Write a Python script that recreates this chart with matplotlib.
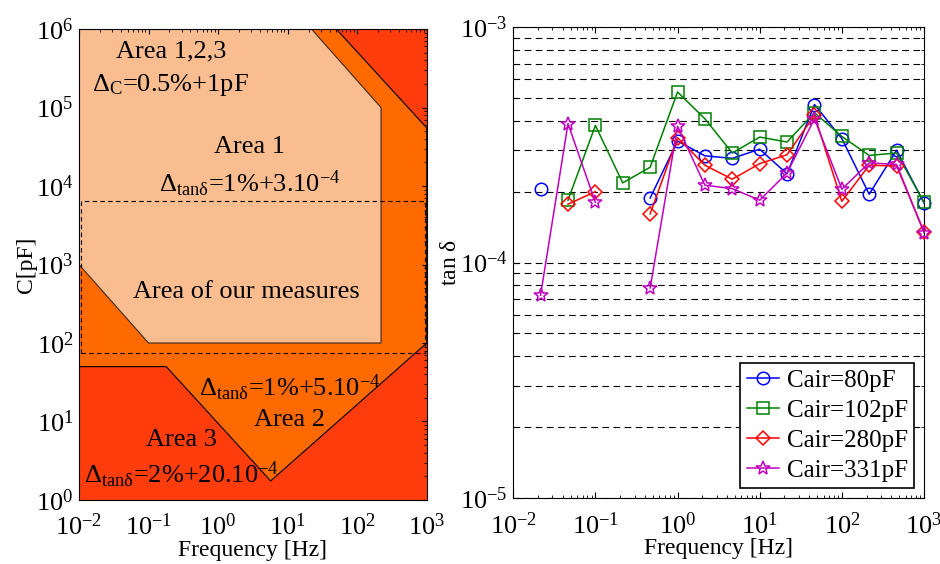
import numpy as np
import matplotlib
matplotlib.use('Agg')
import matplotlib.pyplot as plt
from matplotlib.ticker import LogLocator, NullFormatter

plt.rcParams['font.family'] = ['Liberation Serif', 'DejaVu Serif']
plt.rcParams['mathtext.fontset'] = 'custom'
plt.rcParams['mathtext.rm'] = 'Liberation Serif'
plt.rcParams['mathtext.it'] = 'Liberation Serif:italic'
plt.rcParams['mathtext.bf'] = 'Liberation Serif:bold'

# ---- left panel: accuracy areas (frequency [Hz], capacitance [pF]) ----
area2_f = [0.01, 0.18, 5.7, 1000, 1000, 50, 0.01]
area2_c = [50, 50, 1.75, 100, 5.5e4, 1e6, 1e6]
area1_f = [0.01, 22, 220, 220, 0.1, 0.01]
area1_c = [1e6, 1e6, 1e5, 100, 100, 1e3]
meas_f = [0.0106, 955]
meas_c = [75, 6500]

# ---- right panel: tan delta vs frequency ----
freq = [0.0215, 0.0464, 0.1, 0.215, 0.464, 1, 2.15, 4.64, 10, 21.5, 46.4,
        100, 215, 464, 1000]
nan = np.nan
tan_80 = [2.05e-4, nan, nan, nan, 1.88e-4, 3.28e-4, 2.84e-4, 2.77e-4, 3.03e-4,
          2.38e-4, 4.69e-4, 3.36e-4, 1.95e-4, 3.0e-4, 1.79e-4]
tan_102 = [nan, 1.84e-4, 3.82e-4, 2.18e-4, 2.54e-4, 5.30e-4, 4.08e-4, 2.92e-4,
           3.41e-4, 3.25e-4, 4.33e-4, 3.43e-4, 2.85e-4, 2.92e-4, 1.80e-4]
tan_280 = [nan, 1.77e-4, 2.0e-4, nan, 1.61e-4, 3.39e-4, 2.59e-4, 2.26e-4,
           2.63e-4, 2.87e-4, 4.22e-4, 1.82e-4, 2.59e-4, 2.57e-4, 1.35e-4]
tan_331 = [7.26e-5, 3.89e-4, 1.80e-4, nan, 7.8e-5, 3.79e-4, 2.13e-4, 2.06e-4,
           1.84e-4, 2.40e-4, 4.08e-4, 2.05e-4, 2.65e-4, 2.61e-4, 1.34e-4]
series_labels = ['Cair=80pF', 'Cair=102pF', 'Cair=280pF', 'Cair=331pF']

fig = plt.figure(figsize=(9.4, 5.64), dpi=100)

# left panel
ax1 = fig.add_axes([0.084, 0.1135, 0.370, 0.835])
ax1.set_xscale('log')
ax1.set_yscale('log')
ax1.set_xlim(1e-2, 1e3)
ax1.set_ylim(1e0, 1e6)
ax1.set_facecolor('#FF3C0C')
ax1.fill(area2_f, area2_c, facecolor='#FF6A00', edgecolor='black', lw=0.8)
ax1.fill(area1_f, area1_c, facecolor='#F9BD8F', edgecolor='#3a2a20', lw=0.8)
ax1.plot([meas_f[0], meas_f[1], meas_f[1], meas_f[0], meas_f[0]],
         [meas_c[0], meas_c[0], meas_c[1], meas_c[1], meas_c[0]],
         ls='--', color='black', lw=0.8, dashes=(4, 3))

txt = dict(transform=ax1.transAxes, ha='center', va='center', fontsize=19)
ax1.text(0.266, 0.952, 'Area 1,2,3', **txt)
ax1.text(0.264, 0.882, r'$\Delta_{\mathrm{C}}$=0.5%+1pF', **txt)
ax1.text(0.491, 0.750, 'Area 1', **txt)
ax1.text(0.491, 0.672, r'$\Delta_{\mathrm{tan\delta}}$=1%+3.10$^{\mathrm{-4}}$', **txt)
ax1.text(0.482, 0.442, 'Area of our measures', **txt)
ax1.text(0.606, 0.238, r'$\Delta_{\mathrm{tan\delta}}$=1%+5.10$^{\mathrm{-4}}$', **txt)
ax1.text(0.606, 0.170, 'Area 2', **txt)
ax1.text(0.295, 0.127, 'Area 3', **txt)
ax1.text(0.295, 0.054, r'$\Delta_{\mathrm{tan\delta}}$=2%+20.10$^{\mathrm{-4}}$', **txt)

ax1.set_xlabel('Frequency [Hz]', fontsize=17, labelpad=0)
ax1.set_ylabel('C[pF]', fontsize=17, labelpad=-1)
ax1.tick_params(which='both', direction='in', top=True, right=True,
                bottom=False, left=False, labelsize=19)
ax1.tick_params(axis='x', pad=10)
ax1.tick_params(axis='y', pad=4)
ax1.xaxis.set_major_locator(LogLocator(base=10, numticks=10))
ax1.yaxis.set_major_locator(LogLocator(base=10, numticks=10))
ax1.xaxis.set_minor_formatter(NullFormatter())
ax1.yaxis.set_minor_formatter(NullFormatter())

# right panel
ax2 = fig.add_axes([0.546, 0.117, 0.437, 0.835])
ax2.set_xscale('log')
ax2.set_yscale('log')
ax2.set_xlim(1e-2, 1e3)
ax2.set_ylim(1e-5, 1e-3)

styles = [('#0000FF', 'o', 9), ('#008000', 's', 8), ('#FF0000', 'D', 7),
          ('#BF00BF', '*', 10)]
for vals, lab, (col, mk, ms) in zip([tan_80, tan_102, tan_280, tan_331],
                                    series_labels, styles):
    ax2.plot(freq, vals, color=col, marker=mk, ms=ms, mfc='none', mec=col,
             mew=1.1, lw=1.1, label=lab, clip_on=False, zorder=3)

ax2.yaxis.set_minor_locator(LogLocator(base=10, subs=np.arange(2, 10), numticks=10))
ax2.yaxis.set_minor_formatter(NullFormatter())
ax2.xaxis.set_major_locator(LogLocator(base=10, numticks=10))
ax2.xaxis.set_minor_locator(LogLocator(base=10, subs=np.arange(2, 10), numticks=10))
ax2.xaxis.set_minor_formatter(NullFormatter())
ax2.grid(True, which='both', axis='y', ls='--', color='black', lw=0.8,
         dashes=(6, 4))
ax2.tick_params(which='both', direction='in', top=True, right=True,
                labelsize=19)
ax2.tick_params(axis='x', pad=10)
ax2.tick_params(axis='y', pad=4)
ax2.tick_params(which='major', length=4)
ax2.tick_params(which='minor', length=2.5)
ax2.set_xlabel('Frequency [Hz]', fontsize=17, labelpad=0)
ax2.set_ylabel(r'tan $\mathrm{\delta}$', fontsize=17, labelpad=-1)

leg = ax2.legend(loc='lower right', fontsize=18, labelspacing=0.3,
                 handlelength=1.3, handletextpad=0.3, borderpad=0.25,
                 borderaxespad=0.4, fancybox=False, framealpha=1)
leg.get_frame().set_edgecolor('black')
leg.get_frame().set_linewidth(1.2)
leg.set_zorder(5)

fig.savefig('out.png', dpi=100)
